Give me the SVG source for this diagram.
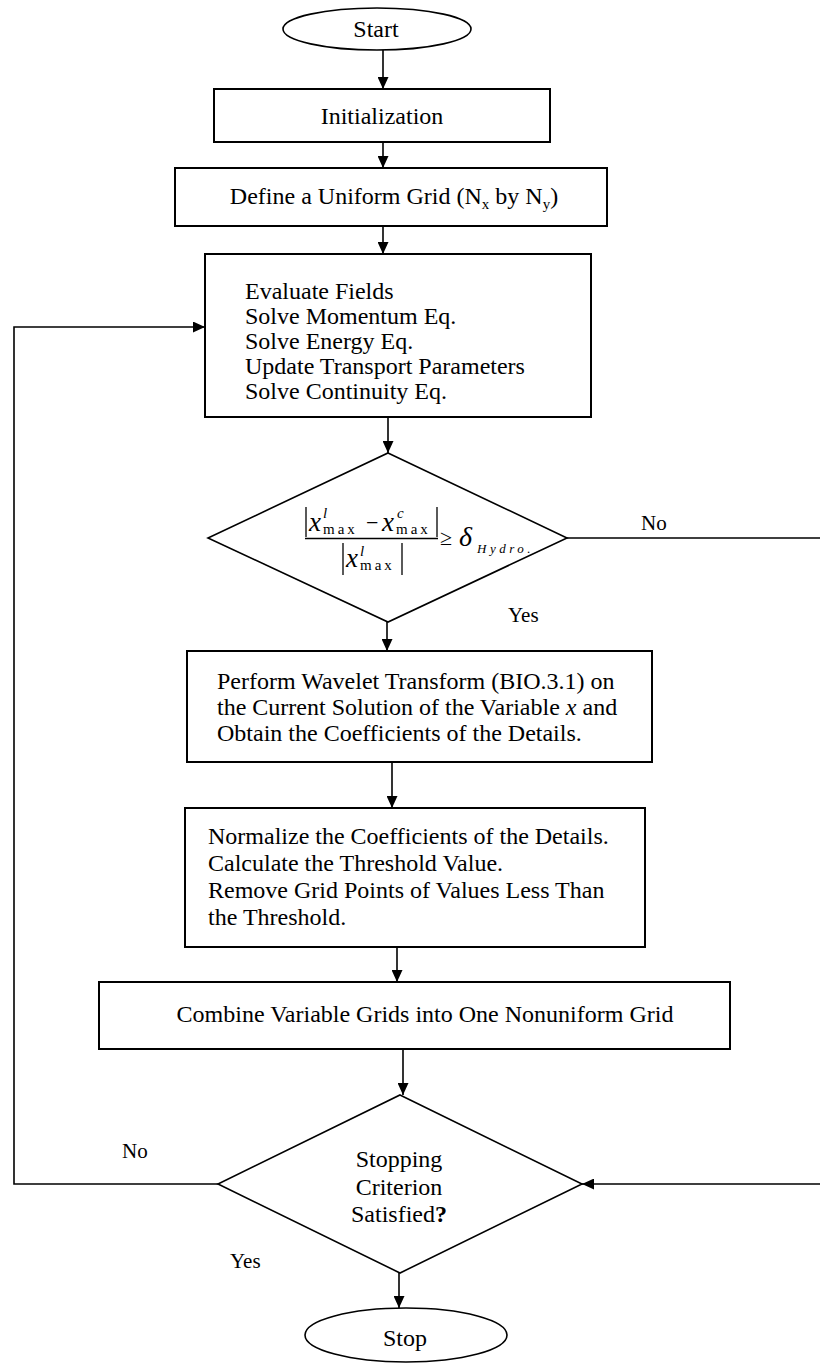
<svg xmlns="http://www.w3.org/2000/svg" width="820" height="1364" viewBox="0 0 820 1364">
<style>
  .t{font-family:"Liberation Serif","Times New Roman",serif;font-size:24px;fill:#000}
  .lbl{font-family:"Liberation Serif","Times New Roman",serif;font-size:21px;fill:#000}
  .m{font-family:"Liberation Serif","Times New Roman",serif;fill:#000}
  .box{fill:#fff;stroke:#000;stroke-width:2}
  .shape{fill:#fff;stroke:#000;stroke-width:1.6}
  .c{fill:none;stroke:#000;stroke-width:1.6}
  .bar{stroke:#000;stroke-width:1.3}
</style>
<defs>
  <marker id="ah" markerUnits="userSpaceOnUse" markerWidth="12" markerHeight="11" refX="12" refY="5.5" orient="auto">
    <path d="M0,0 L12,5.5 L0,11 Z" fill="#000"/>
  </marker>
</defs>

<g id="connectors">
  <line class="c" x1="383" y1="50" x2="383" y2="89" marker-end="url(#ah)"/>
  <line class="c" x1="383" y1="142" x2="383" y2="168" marker-end="url(#ah)"/>
  <line class="c" x1="383" y1="226" x2="383" y2="254" marker-end="url(#ah)"/>
  <line class="c" x1="388" y1="417" x2="388" y2="453" marker-end="url(#ah)"/>
  <line class="c" x1="387" y1="622" x2="387" y2="651" marker-end="url(#ah)"/>
  <line class="c" x1="392" y1="762" x2="392" y2="808" marker-end="url(#ah)"/>
  <line class="c" x1="397" y1="947" x2="397" y2="982" marker-end="url(#ah)"/>
  <line class="c" x1="403" y1="1049" x2="403" y2="1095" marker-end="url(#ah)"/>
  <line class="c" x1="399" y1="1273" x2="399" y2="1308" marker-end="url(#ah)"/>
  <polyline class="c" points="218,1184 14,1184 14,327 205,327" marker-end="url(#ah)"/>
  <polyline class="c" points="567,538 822,538 822,1184 582,1184" marker-end="url(#ah)"/>
  <text class="lbl" x="641" y="530">No</text>
  <text class="lbl" x="508" y="622">Yes</text>
  <text class="lbl" x="122" y="1158">No</text>
  <text class="lbl" x="230" y="1268">Yes</text>
</g>

<g id="start">
  <ellipse class="shape" cx="377" cy="29" rx="94" ry="21"/>
  <text class="t" x="376" y="37" text-anchor="middle">Start</text>
</g>

<g id="init">
  <rect class="box" x="214" y="89" width="336" height="53"/>
  <text class="t" x="382" y="124" text-anchor="middle">Initialization</text>
</g>

<g id="grid">
  <rect class="box" x="175" y="168" width="432" height="58"/>
  <text class="t" x="394" y="204" text-anchor="middle">Define a Uniform Grid (N<tspan font-size="15" dy="5">x</tspan><tspan dy="-5"> by N</tspan><tspan font-size="15" dy="5">y</tspan><tspan dy="-5">)</tspan></text>
</g>

<g id="evaluate">
  <rect class="box" x="205" y="254" width="386" height="163"/>
  <text class="t" x="245" y="299">Evaluate Fields</text>
  <text class="t" x="245" y="324">Solve Momentum Eq.</text>
  <text class="t" x="245" y="349">Solve Energy Eq.</text>
  <text class="t" x="245" y="374">Update Transport Parameters</text>
  <text class="t" x="245" y="399">Solve Continuity Eq.</text>
</g>

<g id="check1">
  <polygon class="shape" points="388,453 567,538 388,622 208,538"/>
  <line class="bar" x1="306" y1="507" x2="306" y2="537"/>
  <line class="bar" x1="437" y1="507" x2="437" y2="537"/>
  <line class="bar" x1="305" y1="538.5" x2="438" y2="538.5"/>
  <line class="bar" x1="343" y1="543" x2="343" y2="575"/>
  <line class="bar" x1="402" y1="543" x2="402" y2="575"/>
  <text class="m" font-size="27" font-style="italic" x="309" y="531">x</text>
  <text class="m" font-size="15" font-style="italic" x="323" y="518">l</text>
  <text class="m" font-size="15" letter-spacing="3" x="323" y="534">max</text>
  <text class="m" font-size="22" x="366" y="530">−</text>
  <text class="m" font-size="27" font-style="italic" x="382" y="531">x</text>
  <text class="m" font-size="15" font-style="italic" x="397" y="518">c</text>
  <text class="m" font-size="15" letter-spacing="3" x="396" y="534">max</text>
  <text class="m" font-size="27" font-style="italic" x="346" y="567">x</text>
  <text class="m" font-size="15" font-style="italic" x="360" y="556">l</text>
  <text class="m" font-size="15" letter-spacing="3" x="360" y="570">max</text>
  <text class="m" font-size="22" x="440" y="545">≥</text>
  <text class="m" font-size="28" font-style="italic" x="459" y="546">δ</text>
  <text class="m" font-size="13" font-style="italic" letter-spacing="3.5" x="477" y="553">Hydro.</text>
</g>

<g id="wavelet">
  <rect class="box" x="187" y="651" width="465" height="111"/>
  <text class="t" x="217" y="689">Perform Wavelet Transform (BIO.3.1) on</text>
  <text class="t" x="217" y="715">the Current Solution of the Variable <tspan font-style="italic">x</tspan> and</text>
  <text class="t" x="217" y="741">Obtain the Coefficients of the Details.</text>
</g>

<g id="normalize">
  <rect class="box" x="185" y="808" width="460" height="139"/>
  <text class="t" x="208" y="844">Normalize the Coefficients of the Details.</text>
  <text class="t" x="208" y="871">Calculate the Threshold Value.</text>
  <text class="t" x="208" y="898">Remove Grid Points of Values Less Than</text>
  <text class="t" x="208" y="925">the Threshold.</text>
</g>

<g id="combine">
  <rect class="box" x="99" y="982" width="631" height="67"/>
  <text class="t" x="425" y="1022" text-anchor="middle">Combine Variable Grids into One Nonuniform Grid</text>
</g>

<g id="check2">
  <polygon class="shape" points="400,1095 582,1184 400,1273 218,1184"/>
  <text class="t" x="399" y="1167" text-anchor="middle">Stopping</text>
  <text class="t" x="399" y="1195" text-anchor="middle">Criterion</text>
  <text class="t" x="399" y="1222" text-anchor="middle">Satisfied<tspan font-weight="bold">?</tspan></text>
</g>

<g id="stop">
  <ellipse class="shape" cx="406" cy="1335" rx="101" ry="27"/>
  <text class="t" x="405" y="1346" text-anchor="middle">Stop</text>
</g>
</svg>
